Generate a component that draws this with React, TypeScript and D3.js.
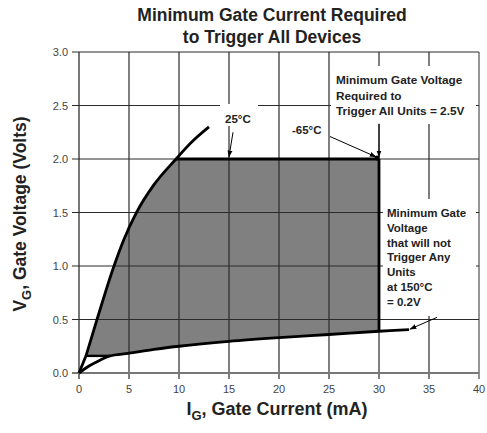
import React from "react";
import * as d3 from "d3";

const xTicks = [0, 5, 10, 15, 20, 25, 30, 35, 40];
const yTicks = [0, 0.5, 1.0, 1.5, 2.0, 2.5, 3.0];

// 25°C curve (upper/left boundary)
const upperCurrent = [0.7, 1.8, 3.5, 4.5, 5.75, 7.5, 9.7, 11.4, 13.0];
const upperVoltage = [0.16, 0.5, 1.0, 1.25, 1.5, 1.76, 2.0, 2.17, 2.3];
// 150°C curve (lower boundary)
const lowerCurrent = [0, 1, 2, 3.1, 5, 7.5, 10, 15, 20, 25, 30, 33];
const lowerVoltage = [0, 0.065, 0.115, 0.16, 0.185, 0.22, 0.25, 0.295, 0.33, 0.36, 0.39, 0.405];

const minTriggerVoltage = 2.0;
const maxRegionCurrent = 30;
const upperCornerCurrent = 9.7;
const floorVoltage = 0.16;
const floorEndCurrent = 3.1;

const W = 487, H = 433;
const x = d3.scaleLinear().domain([0, 40]).range([79, 479]);
const y = d3.scaleLinear().domain([0, 3]).range([373, 52]);

export default function App() {
  const upperPts: [number, number][] = upperCurrent.map((c, i) => [x(c), y(upperVoltage[i])]);
  const lowerPts: [number, number][] = lowerCurrent.map((c, i) => [x(c), y(lowerVoltage[i])]);
  const upperCurve = d3.line().curve(d3.curveMonotoneX);
  const curve = d3.line().curve(d3.curveCatmullRom.alpha(0.5));

  const lowerAt30 = d3.scaleLinear().domain(lowerCurrent).range(lowerVoltage)(maxRegionCurrent);
  const upperRegion = upperPts.filter((p, i) => upperCurrent[i] <= upperCornerCurrent);
  const lowerRegion = lowerPts
    .filter((p, i) => lowerCurrent[i] >= floorEndCurrent && lowerCurrent[i] <= maxRegionCurrent)
    .reverse();
  const regionPath =
    (upperCurve(upperRegion) as string) +
    `L${x(maxRegionCurrent)},${y(minTriggerVoltage)}` +
    `L${x(maxRegionCurrent)},${y(lowerAt30)}` +
    (curve(lowerRegion) as string).replace(/^M/, "L") +
    "Z";

  const upperPath = `M${x(0)},${y(0)}` + (upperCurve(upperPts) as string).replace(/^M/, "L");
  const lowerPath = curve(lowerPts) as string;

  const grid = "#2a2a2a";
  const font = "Liberation Sans, Arial, sans-serif";

  const box1 = ["Minimum Gate Voltage", "Required to", "Trigger All Units = 2.5V"];
  const box2 = ["Minimum Gate", "Voltage", "that will not", "Trigger Any", "Units", "at 150°C", "= 0.2V"];

  return (
    <svg width={W} height={H} style={{ position: "absolute", left: 0, top: 0, background: "#fff" }}
      fontFamily={font}>
      <defs>
        <marker id="ah" viewBox="0 0 10 10" refX="9" refY="5" markerWidth="7" markerHeight="7" orient="auto">
          <path d="M0,1.5 L10,5 L0,8.5 Z" fill="#000" />
        </marker>
      </defs>
      <rect width={W} height={H} fill="#fff" />
      {/* title */}
      <text x={272} y={21} textAnchor="middle" fontWeight="bold" fontSize={17.5} fill="#222">
        Minimum Gate Current Required
      </text>
      <text x={272} y={43} textAnchor="middle" fontWeight="bold" fontSize={17.5} fill="#222">
        to Trigger All Devices
      </text>

      {/* shaded region */}
      <path d={regionPath} fill="#808080" stroke="none" />

      {/* gridlines */}
      {xTicks.map((t) => (
        <line key={"gx" + t} x1={x(t)} x2={x(t)} y1={y(3)} y2={y(0) + 6} stroke={t === 0 ? "#777" : grid}
          strokeWidth={t === 0 ? 2 : t === 40 ? 1 : 1.2} />
      ))}
      {yTicks.map((t) => (
        <line key={"gy" + t} x1={x(0) - 7} x2={x(40)} y1={y(t)} y2={y(t)} stroke={t === 0 ? "#777" : grid}
          strokeWidth={t === 0 ? 2 : 1.2} />
      ))}

      {/* white backgrounds for annotations */}
      <rect x={331} y={66} width={145} height={58} fill="#fff" />
      <rect x={383} y={199} width={93} height={117} fill="#fff" />
      <rect x={220} y={104} width={38} height={22} fill="#fff" />
      <rect x={288} y={121} width={38} height={16} fill="#fff" />

      {/* tick labels */}
      {yTicks.map((t) => (
        <text key={"ly" + t} x={68} y={y(t) + 4} textAnchor="end" fontSize={11} fill="#444">
          {t.toFixed(1)}
        </text>
      ))}
      {xTicks.map((t) => (
        <text key={"lx" + t} x={x(t)} y={393} textAnchor="middle" fontSize={11} fill="#444">
          {t}
        </text>
      ))}

      {/* boundary lines */}
      <path d={upperPath} fill="none" stroke="#000" strokeWidth={2.8} />
      <path d={lowerPath} fill="none" stroke="#000" strokeWidth={2.8} />
      <line x1={x(upperCornerCurrent)} x2={x(maxRegionCurrent)} y1={y(minTriggerVoltage)} y2={y(minTriggerVoltage)}
        stroke="#000" strokeWidth={2.8} />
      <line x1={x(maxRegionCurrent)} x2={x(maxRegionCurrent)} y1={y(minTriggerVoltage)} y2={y(lowerAt30)}
        stroke="#000" strokeWidth={2.8} />
      <line x1={x(0.7)} x2={x(floorEndCurrent)} y1={y(floorVoltage)} y2={y(floorVoltage)}
        stroke="#000" strokeWidth={2.4} />

      {/* annotations */}
      <text x={225} y={123} fontSize={11.5} fontWeight="bold" fill="#222">25°C</text>
      <line x1={x(15.4)} y1={y(2.25)} x2={x(15)} y2={y(2.02)} stroke="#000" strokeWidth={1} markerEnd="url(#ah)" />
      <text x={292} y={134} fontSize={11.5} fontWeight="bold" fill="#222">-65°C</text>
      <line x1={x(25.1)} y1={y(2.21)} x2={x(29.7)} y2={y(2.02)} stroke="#000" strokeWidth={1} markerEnd="url(#ah)" />
      <circle cx={x(29.8)} cy={y(2.01)} r={2.5} fill="#000" />
      <line x1={x(30)} y1={y(2.33)} x2={x(30)} y2={y(2.02)} stroke="#000" strokeWidth={1} markerEnd="url(#ah)" />
      <line x1={x(35.8)} y1={y(0.52)} x2={x(33.1)} y2={y(0.41)} stroke="#000" strokeWidth={1} markerEnd="url(#ah)" />

      {box1.map((s, i) => (
        <text key={"b1" + i} x={336} y={84 + i * 15.5} fontSize={11.8} fontWeight="bold" fill="#222">{s}</text>
      ))}
      {box2.map((s, i) => (
        <text key={"b2" + i} x={387} y={217 + i * 14.8} fontSize={11.5} fontWeight="bold" fill="#222">{s}</text>
      ))}

      {/* axis titles */}
      <text transform="translate(26,214) rotate(-90)" textAnchor="middle" fontSize={17.5} fontWeight="bold" fill="#222">
        V<tspan fontSize={13} dy={5}>G</tspan><tspan dy={-5}>, Gate Voltage (Volts)</tspan>
      </text>
      <text x={277} y={415} textAnchor="middle" fontSize={18} fontWeight="bold" fill="#222">
        I<tspan fontSize={13} dy={5}>G</tspan><tspan dy={-5}>, Gate Current (mA)</tspan>
      </text>
    </svg>
  );
}
